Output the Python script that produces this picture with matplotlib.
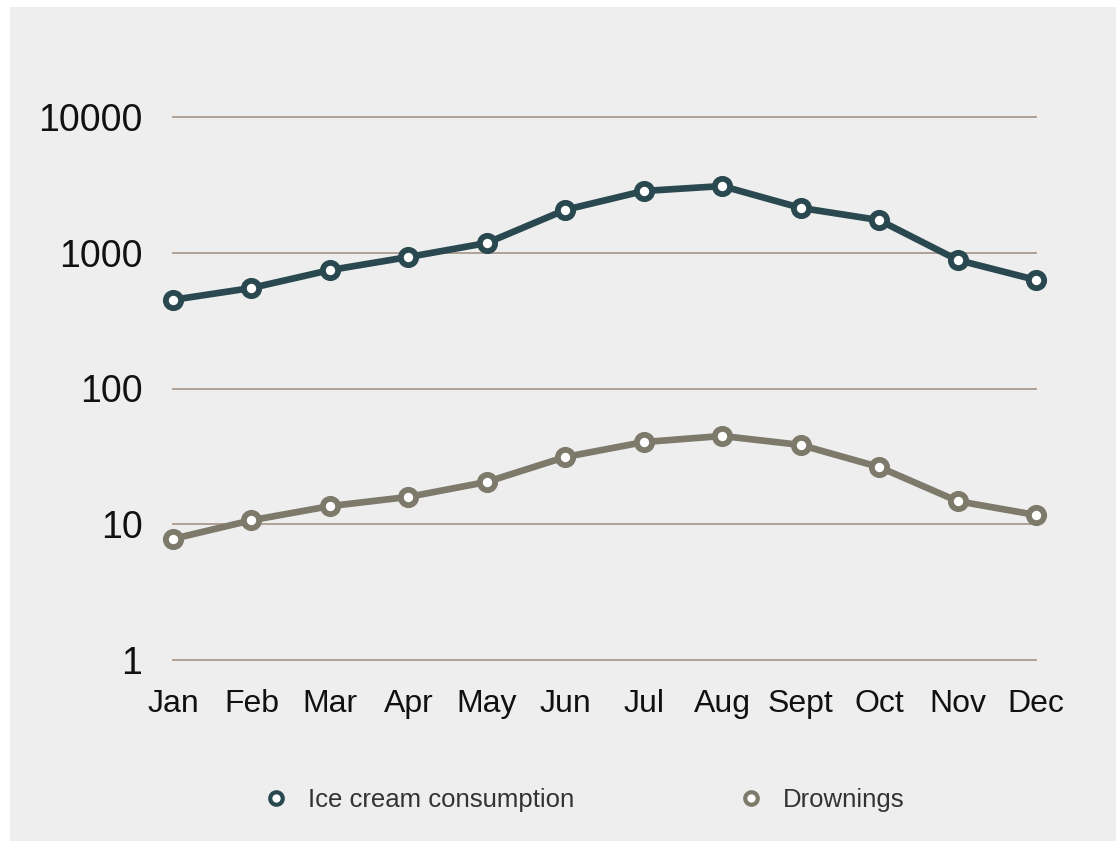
import matplotlib.pyplot as plt
from matplotlib.patches import Rectangle
from matplotlib.lines import Line2D

months = ["Jan", "Feb", "Mar", "Apr", "May", "Jun", "Jul", "Aug", "Sept", "Oct", "Nov", "Dec"]
ice_cream = [450, 550, 745, 930, 1180, 2070, 2850, 3100, 2140, 1740, 885, 630]
drownings = [7.8, 10.7, 13.6, 15.9, 20.5, 31.3, 40.3, 44.7, 38.4, 26.4, 14.8, 11.7]
y_ticks = [1, 10, 100, 1000, 10000]

ICE_COLOR = "#2a4850"
DROWN_COLOR = "#7d7a6b"
BG = "#eeeeee"

plt.rcParams["font.family"] = ["Liberation Sans", "DejaVu Sans"]

fig = plt.figure(figsize=(11.16, 8.41), dpi=100, facecolor="white")
fig.patches.append(Rectangle((10 / 1116, 0), 1, 1 - 7 / 841, transform=fig.transFigure,
                             facecolor=BG, edgecolor="none", zorder=-5))

ax = fig.add_axes([173 / 1116, 1 - 660 / 841, (1036 - 173) / 1116, (660 - 117) / 841])
ax.set_zorder(2)
ax.set_facecolor("none")
ax.set_yscale("log")
ax.set_ylim(1, 10000)
ax.set_xlim(0, len(months) - 1)

for s in ax.spines.values():
    s.set_visible(False)

for v in y_ticks:
    ax.axhline(v, color="#ab9a8e", lw=1.3, zorder=1, clip_on=False)

x = range(len(months))
style = dict(lw=4.8, marker="o", ms=11, mew=4.2, mfc="white", zorder=3, clip_on=False)
ax.plot(x, ice_cream, color=ICE_COLOR, mec=ICE_COLOR, **style)
ax.plot(x, drownings, color=DROWN_COLOR, mec=DROWN_COLOR, **style)

ax.set_yticks(y_ticks)
ax.set_yticklabels([str(v) for v in y_ticks])
ax.yaxis.set_minor_locator(plt.NullLocator())
ax.set_xticks(list(x))
ax.set_xticklabels(months)
ax.tick_params(axis="y", length=0, pad=22, labelsize=27, labelcolor="#111111")
ax.tick_params(axis="x", length=0, pad=21, labelsize=23, labelcolor="#111111")

handles = [
    Line2D([], [], ls="none", marker="o", ms=9, mew=3, mfc="white", mec=ICE_COLOR),
    Line2D([], [], ls="none", marker="o", ms=9, mew=3, mfc="white", mec=DROWN_COLOR),
]
leg = fig.legend(handles, ["Ice cream consumption", "Drownings"], loc="center",
                 bbox_to_anchor=(584 / 1116, 1 - 800 / 841), ncol=2, frameon=False,
                 fontsize=18.5, handlelength=1, handletextpad=0.72, columnspacing=6.4,
                 labelcolor="#333333")
leg.set_zorder(3)

fig.savefig("out.png", dpi=100, facecolor=fig.get_facecolor())
